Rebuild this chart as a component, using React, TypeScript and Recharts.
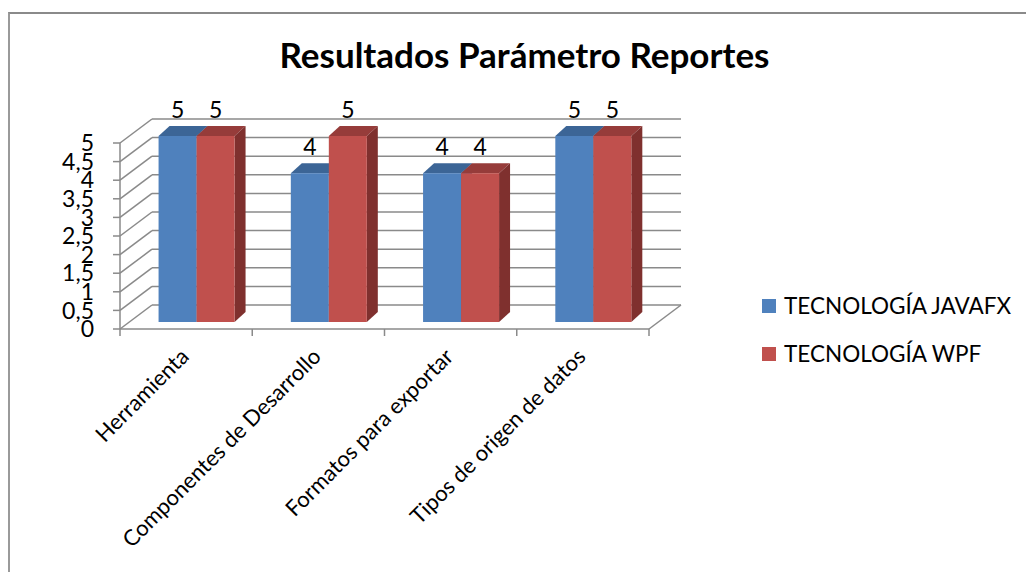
import { BarChart, Bar, XAxis, YAxis, CartesianGrid, LabelList } from "recharts";

// values
const categories = [
  "Herramienta",
  "Componentes de Desarrollo",
  "Formatos para exportar",
  "Tipos de origen de datos",
];
const javafx = [5, 4, 4, 5];
const wpf = [5, 5, 4, 5];
const yTicks = [0, 0.5, 1, 1.5, 2, 2.5, 3, 3.5, 4, 4.5, 5];

const series = [
  { key: "javafx", name: "TECNOLOGÍA JAVAFX", front: "#4f81bd", top: "#3c6596", side: "#385d8a" },
  { key: "wpf", name: "TECNOLOGÍA WPF", front: "#c0504d", top: "#963c3a", side: "#7f302e" },
];

const data = categories.map((name, i) => ({ name, javafx: javafx[i], wpf: wpf[i] }));

const FONT = "Lato, 'Noto Sans', sans-serif";
const GRID = "#8a8a8a";

// chart box and plot area
const W = 1020;
const H = 560;
const Y_AXIS_W = 60;
const X_AXIS_H = 100;
const margin = { top: 136, right: 361, bottom: 138, left: 70 };
const PLOT_LEFT = margin.left + Y_AXIS_W;
const PLOT_BOTTOM = H - margin.bottom - X_AXIS_H;
const BAND = (W - margin.right - PLOT_LEFT) / categories.length;

// fake 3d: front edge offset and back wall offset from the bar plane
const FX = -10, FY = 7;
const BX = 22, BY = -17;
// bar depth
const DX = 11, DY = 10;

const gridLine = (p: any) => {
  const { x1, x2, y1 } = p;
  const isFloor = Math.abs(y1 - PLOT_BOTTOM) < 0.5;
  return (
    <g key={p.key} stroke={GRID} strokeWidth={1.5}>
      <line x1={x1 + FX} y1={y1 + FY} x2={x1 + BX} y2={y1 + BY} />
      <line x1={x1 + BX} y1={y1 + BY} x2={x2 + BX} y2={y1 + BY} />
      {isFloor && <line x1={x2 + FX} y1={y1 + FY} x2={x2 + BX} y2={y1 + BY} />}
    </g>
  );
};

const YTick = (p: any) => {
  const { y, payload } = p;
  const yf = y + FY;
  const xf = PLOT_LEFT + FX;
  return (
    <g>
      <line x1={xf - 7} y1={yf} x2={xf} y2={yf} stroke={GRID} strokeWidth={1.5} />
      <text x={xf - 26} y={yf} dy="0.36em" textAnchor="end" fontSize={23} fontFamily={FONT} fill="#000">
        {String(payload.value).replace(".", ",")}
      </text>
    </g>
  );
};

const XTick = (p: any) => {
  const { x, payload, index } = p;
  const half = BAND / 2;
  const y0 = PLOT_BOTTOM + FY;
  const lx = x - 6;
  const ly = 358;
  return (
    <g>
      <line x1={x - half + FX} y1={y0} x2={x - half + FX} y2={y0 + 7} stroke={GRID} strokeWidth={1.5} />
      {index === categories.length - 1 && (
        <line x1={x + half + FX} y1={y0} x2={x + half + FX} y2={y0 + 7} stroke={GRID} strokeWidth={1.5} />
      )}
      <text
        x={lx}
        y={ly}
        transform={`rotate(-45, ${lx}, ${ly})`}
        textAnchor="end"
        fontSize={22}
        fontFamily={FONT}
        fill="#000"
      >
        {payload.value}
      </text>
    </g>
  );
};

const Box3D = (p: any) => {
  const { x, y, width, height, fill, topColor, sideColor } = p;
  if (!height || height <= 0) return null;
  return (
    <g>
      <path d={`M${x},${y} L${x + DX},${y - DY} L${x + width + DX},${y - DY} L${x + width},${y} Z`} fill={topColor} />
      <path
        d={`M${x + width},${y} L${x + width + DX},${y - DY} L${x + width + DX},${y + height - DY} L${x + width},${y + height} Z`}
        fill={sideColor}
      />
      <rect x={x} y={y} width={width} height={height} fill={fill} />
    </g>
  );
};

export default function App() {
  return (
    <div style={{ position: "fixed", left: 0, top: 0, width: 1026, height: 572, overflow: "hidden", fontFamily: FONT, background: "#fff" }}>
      {/* chart frame, right and bottom edges fall outside the picture */}
      <div
        style={{
          position: "absolute",
          left: 8,
          top: 12,
          width: 1040,
          height: 580,
          boxSizing: "border-box",
          borderTop: "2px solid #8a8a8a",
          borderLeft: "2px solid #9a9a9a",
        }}
      />
      <svg width={W} height={90} style={{ position: "absolute", left: 0, top: 0 }}>
        <text x={524.5} y={68} textAnchor="middle" fontSize={35} fontWeight="bold" fontFamily={FONT} fill="#000">
          Resultados Parámetro Reportes
        </text>
      </svg>
      <BarChart
        width={W}
        height={H}
        data={data}
        margin={margin}
        barCategoryGap="21.6%"
        barGap={0}
        style={{ position: "absolute", left: 0, top: 0 }}
      >
        <CartesianGrid horizontal={gridLine} vertical={false} />
        <XAxis
          dataKey="name"
          height={X_AXIS_H}
          interval={0}
          tickLine={false}
          axisLine={{ stroke: GRID, strokeWidth: 1.5, transform: `translate(${FX},${FY})` }}
          tick={XTick}
        />
        <YAxis
          type="number"
          domain={[0, 5]}
          ticks={yTicks}
          interval={0}
          width={Y_AXIS_W}
          tickLine={false}
          axisLine={{ stroke: GRID, strokeWidth: 1.5, transform: `translate(${FX},${FY})` }}
          tick={YTick}
        />
        {series.map((s) => (
          <Bar
            key={s.key}
            dataKey={s.key}
            name={s.name}
            fill={s.front}
            isAnimationActive={false}
            shape={(p: any) => <Box3D {...p} topColor={s.top} sideColor={s.side} />}
          >
            <LabelList dataKey={s.key} position="top" offset={18} fontSize={23} fontFamily={FONT} fill="#000" />
          </Bar>
        ))}
      </BarChart>
      {series.map((s, i) => (
        <div
          key={s.key}
          style={{
            position: "absolute",
            left: 762,
            top: 294 + i * 48,
            height: 24,
            display: "flex",
            alignItems: "center",
            whiteSpace: "nowrap",
          }}
        >
          <span style={{ width: 14, height: 14, background: s.front, display: "inline-block" }} />
          <span style={{ marginLeft: 8, fontSize: 22.5, lineHeight: "24px", color: "#000" }}>{s.name}</span>
        </div>
      ))}
    </div>
  );
}
